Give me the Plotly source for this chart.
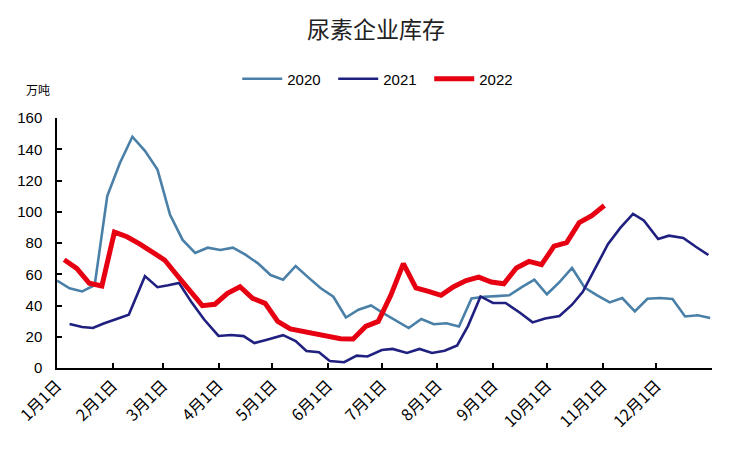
import plotly.graph_objects as go
from datetime import date, timedelta

# ---------------- data ----------------
title_text = "尿素企业库存"
unit_text = "万吨"
series_names = ["2020", "2021", "2022"]

# 2020: weekly, Jan 1 .. Dec 31 (plotted on a common calendar)
dates_2020 = [(date(2022, 1, 1) + timedelta(days=7 * k)).strftime("%m-%d") for k in range(53)]
vals_2020 = [56, 51, 49, 53, 110, 131, 148, 139, 127, 98,
             82, 73.6, 77, 75.5, 77, 72.5, 67, 59.5, 56.5, 65.3,
             58, 51, 45.6, 32.3, 37.3, 40, 35, 30.5, 25.6, 31.4,
             28, 28.6, 26.6, 44.5, 45.6, 46, 46.5, 51.7, 56.5, 47.2,
             55, 64, 51.5, 46.5, 42, 44.8, 36.2, 44.3, 44.8, 44.2,
             33, 33.8, 32]

dates_2021 = ["01-08", "01-15", "01-21", "01-27", "02-04", "02-10", "02-19", "02-26",
              "03-04", "03-10", "03-17", "03-24", "04-01", "04-08", "04-15", "04-21",
              "04-28", "05-07", "05-14", "05-20", "05-27", "06-02", "06-10", "06-17",
              "06-23", "07-01", "07-07", "07-15", "07-22", "07-29", "08-05", "08-12",
              "08-18", "08-25", "09-01", "09-08", "09-16", "09-23", "09-30", "10-08",
              "10-15", "10-21", "10-27", "11-04", "11-11", "11-18", "11-24", "12-02",
              "12-08", "12-16", "12-23", "12-30"]
vals_2021 = [28.2, 26.2, 25.6, 28.5, 31.7, 34.1, 58.8, 51.7,
             52.9, 54.4, 42, 31, 20.5, 21.1, 20.4, 16,
             18.1, 21, 17.3, 10.9, 10.1, 4.5, 3.7, 7.9,
             7.4, 11.5, 12.2, 9.6, 12.2, 9.6, 11, 14.4,
             26.8, 45.8, 41.6, 41.6, 35.4, 29.2, 31.7, 33.3,
             40.5, 48.8, 61.8, 79.2, 89.8, 98.6, 94.4, 82.6,
             84.7, 83.2, 77.6, 72.3]

dates_2022 = [(date(2022, 1, 5) + timedelta(days=7 * k)).strftime("%m-%d") for k in range(44)]
vals_2022 = [69.3, 63.7, 54.2, 52.5, 87, 84, 79.5, 74.7, 69.1, 59.2,
             49.3, 39.9, 40.8, 47.8, 52, 44.6, 41.4, 29.8, 25, 23.4,
             21.3, 19.6, 18.7, 18.5, 26.6, 29.8, 46.5, 66.8, 51.2, 49,
             46.5, 52, 56, 58.2, 55, 53.9, 64, 68.2, 66.1, 78,
             80.2, 93, 97.5, 104]

month_ticks = ["01-01", "02-01", "03-01", "04-01", "05-01", "06-01",
               "07-01", "08-01", "09-01", "10-01", "11-01", "12-01"]
month_labels = ["1月1日", "2月1日", "3月1日", "4月1日", "5月1日", "6月1日",
                "7月1日", "8月1日", "9月1日", "10月1日", "11月1日", "12月1日"]
y_ticks = [0, 20, 40, 60, 80, 100, 120, 140, 160]

# ---------------- figure ----------------
def on_axis(md_list):
    return ["2022-" + md for md in md_list]

colors = ["#4a80a8", "#202080", "#e60012"]
widths = [2.6, 2.6, 5]

fig = go.Figure()
for name, d, v, c, w in zip(series_names,
                            [dates_2020, dates_2021, dates_2022],
                            [vals_2020, vals_2021, vals_2022],
                            colors, widths):
    fig.add_trace(go.Scatter(x=on_axis(d), y=v, mode="lines", name=name,
                             line=dict(color=c, width=w)))

tickvals = on_axis(month_ticks) + ["2023-01-01"]
ticktext = month_labels + [""]

W, H = 742, 442
fig.update_layout(
    width=W, height=H,
    paper_bgcolor="white", plot_bgcolor="white",
    margin=dict(l=49, r=38, t=110, b=82),
    font=dict(family="Liberation Sans, Noto Sans CJK SC, sans-serif", size=14, color="#000000"),
    title=dict(text=title_text, x=0.496, xanchor="center", xref="container",
               y=1 - 22 / H, yanchor="middle", yref="container",
               font=dict(family="Noto Sans CJK SC", size=23, color="#222222")),
    legend=dict(orientation="h", xref="container", yref="container",
                x=0.503, xanchor="center", y=1 - 71 / H, yanchor="middle",
                font=dict(size=15), itemwidth=40, entrywidth=41,
                traceorder="normal", bgcolor="rgba(0,0,0,0)"),
    showlegend=True,
)

fig.update_xaxes(
    type="date", range=["2022-01-01", "2023-01-01"], automargin=False,
    tickmode="array", tickvals=tickvals, ticktext=ticktext,
    tickangle=-45, ticks="inside", ticklen=5, tickcolor="black", tickwidth=1.5,
    showline=True, linecolor="black", linewidth=2,
    showgrid=False, zeroline=False,
    tickfont=dict(family="Noto Sans CJK SC", size=16, color="#000000"),
)
fig.update_yaxes(
    range=[0, 160], tickmode="array", tickvals=y_ticks, automargin=False,
    ticks="inside", ticklen=5, tickcolor="black", tickwidth=1.5,
    showline=True, linecolor="black", linewidth=1.5,
    showgrid=False, zeroline=False, ticklabelstandoff=10,
    tickfont=dict(size=15, color="#000000"),
)

fig.add_annotation(text=unit_text, xref="paper", yref="paper",
                   x=-0.029, y=1 + 28 / 250, xanchor="center", yanchor="middle",
                   showarrow=False,
                   font=dict(family="Noto Sans CJK SC", size=12, color="#000000"))

fig.write_html("out.html")
